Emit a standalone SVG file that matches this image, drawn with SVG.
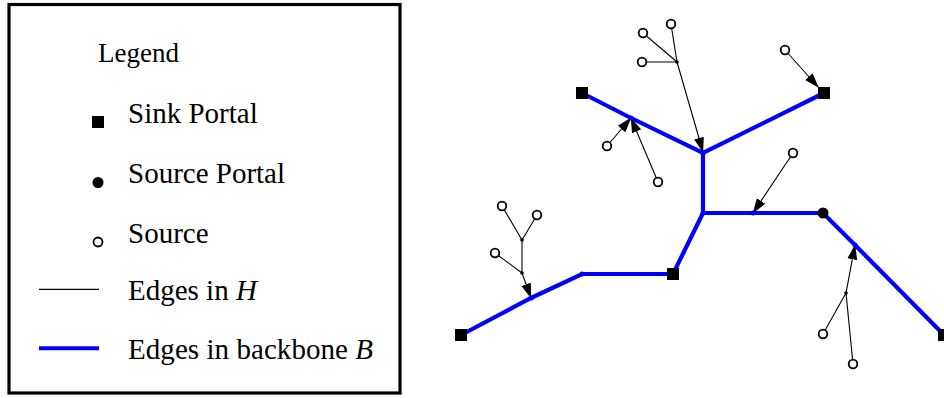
<svg xmlns="http://www.w3.org/2000/svg" width="944" height="398" viewBox="0 0 944 398">
<style>
.t{font-family:"Liberation Serif","Times New Roman",serif;fill:#000}
.bb{stroke:#0000ff;stroke-width:4.2;fill:none;stroke-linecap:round}
.h{stroke:#000;stroke-width:1.1;fill:none}
.ha{stroke:#000;stroke-width:1.1;fill:none;marker-end:url(#ah)}
.sink{fill:#000}
.sp{fill:#000}
.src{fill:#fff;stroke:#000;stroke-width:1.8}
.bd{fill:#0000ff}
.kd{fill:#000}
</style>
<defs>
<marker id="ah" markerUnits="userSpaceOnUse" markerWidth="15" markerHeight="11" refX="14.5" refY="5.5" orient="auto" viewBox="0 0 15 11">
<path d="M0,0.5 L15,5.5 L0,10.5 z" fill="#000"/>
</marker>
</defs>
<rect width="944" height="398" fill="#fff"/>
<g id="legend">
<rect x="9" y="4.5" width="391" height="388.5" fill="#fff" stroke="#000" stroke-width="3.2"/>
<text class="t" x="98" y="62" font-size="27">Legend</text>
<rect class="sink" x="92" y="116" width="12" height="12"/>
<text class="t" x="128" y="123" font-size="29">Sink Portal</text>
<circle class="sp" cx="98" cy="182.5" r="5.5"/>
<text class="t" x="128" y="183" font-size="29">Source Portal</text>
<circle class="src" cx="98" cy="242" r="4.5" stroke-width="2"/>
<text class="t" x="128" y="243" font-size="29">Source</text>
<line x1="39" y1="289.3" x2="99" y2="289.3" stroke="#000" stroke-width="1.2"/>
<text class="t" x="128" y="299.5" font-size="29">Edges in <tspan font-style="italic">H</tspan></text>
<line x1="39" y1="348.3" x2="99" y2="348.3" stroke="#0000ff" stroke-width="4"/>
<text class="t" x="128" y="358.5" font-size="29" textLength="245" lengthAdjust="spacing">Edges in backbone <tspan font-style="italic">B</tspan></text>
</g>
<g id="connectors">
<g id="backbone">
<polyline class="bb" points="582,93 631,118 703,153 824,93"/>
<polyline class="bb" points="703,153 703,213 753,213 823,213 855,245 944,335"/>
<polyline class="bb" points="703,213 673,274 582,274 531,298 461,335"/>
</g>
<g id="h-edges">
<line class="h" x1="671" y1="24" x2="677" y2="62"/>
<line class="h" x1="643" y1="33" x2="677" y2="62"/>
<line class="h" x1="642" y1="62" x2="677" y2="62"/>
<line class="ha" x1="677" y1="62" x2="703" y2="152"/>
<line class="ha" x1="785" y1="50" x2="818.5" y2="87.5"/>
<line class="ha" x1="607" y1="146" x2="631" y2="118"/>
<line class="ha" x1="658" y1="182" x2="631" y2="118"/>
<line class="ha" x1="793" y1="153" x2="753" y2="213"/>
<line class="h" x1="502" y1="206" x2="522" y2="240"/>
<line class="h" x1="537" y1="215" x2="522" y2="240"/>
<line class="h" x1="522" y1="240" x2="522" y2="273"/>
<line class="h" x1="495" y1="253" x2="522" y2="273"/>
<line class="ha" x1="522" y1="273" x2="531" y2="298"/>
<line class="h" x1="823" y1="334" x2="846" y2="293"/>
<line class="h" x1="853" y1="364" x2="846" y2="293"/>
<line class="ha" x1="846" y1="293" x2="855" y2="245"/>
</g>
</g>
<g id="nodes">
<rect id="sink1" class="sink" x="576" y="87" width="12" height="12"/>
<rect id="sink2" class="sink" x="818" y="87" width="12" height="12"/>
<rect id="sink3" class="sink" x="667" y="268" width="12" height="12"/>
<rect id="sink4" class="sink" x="455" y="329" width="12" height="12"/>
<rect id="sink5" class="sink" x="938" y="329" width="12" height="12"/>
<circle id="srcportal" class="sp" cx="823" cy="213" r="5.5"/>
<circle id="b1" class="bd" cx="631" cy="118" r="2.5"/>
<circle id="b2" class="bd" cx="703" cy="153" r="2.5"/>
<circle id="b3" class="bd" cx="703" cy="213" r="2.5"/>
<circle id="b4" class="bd" cx="753" cy="213" r="2.5"/>
<circle id="b5" class="bd" cx="855" cy="245" r="2.5"/>
<circle id="b6" class="bd" cx="582" cy="274" r="2.5"/>
<circle id="b7" class="bd" cx="531" cy="298" r="2.5"/>
<circle id="k1" class="kd" cx="677" cy="62" r="1.8"/>
<circle id="k2" class="kd" cx="522" cy="240" r="1.8"/>
<circle id="k3" class="kd" cx="522" cy="273" r="1.8"/>
<circle id="k4" class="kd" cx="846" cy="293" r="1.8"/>
<circle id="s1" class="src" cx="671" cy="24" r="4.3"/>
<circle id="s2" class="src" cx="643" cy="33" r="4.3"/>
<circle id="s3" class="src" cx="642" cy="62" r="4.3"/>
<circle id="s4" class="src" cx="785" cy="50" r="4.3"/>
<circle id="s5" class="src" cx="607" cy="146" r="4.3"/>
<circle id="s6" class="src" cx="658" cy="182" r="4.3"/>
<circle id="s7" class="src" cx="793" cy="153" r="4.3"/>
<circle id="s8" class="src" cx="502" cy="206" r="4.3"/>
<circle id="s9" class="src" cx="537" cy="215" r="4.3"/>
<circle id="s10" class="src" cx="495" cy="253" r="4.3"/>
<circle id="s11" class="src" cx="823" cy="334" r="4.3"/>
<circle id="s12" class="src" cx="853" cy="364" r="4.3"/>
</g>
</svg>
